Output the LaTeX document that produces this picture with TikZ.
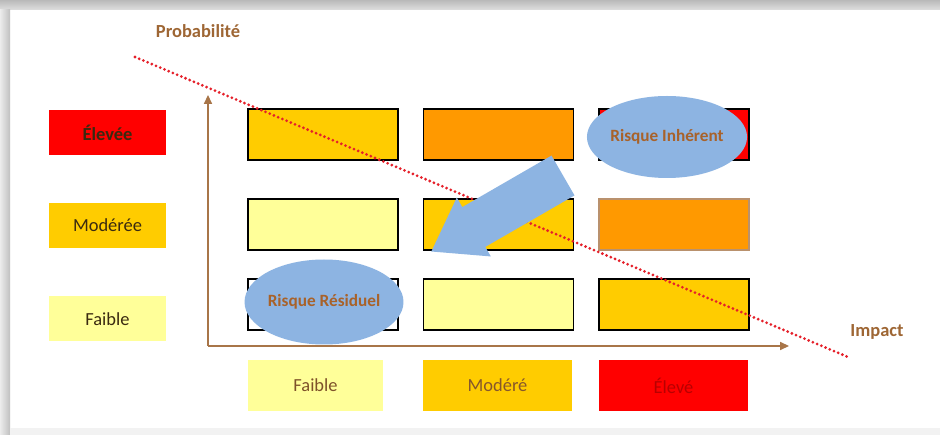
\documentclass[tikz,border=0pt]{standalone}
\usepackage{fontspec}
\setmainfont{Carlito}
\usetikzlibrary{arrows.meta,shapes.geometric}

\definecolor{gold}{HTML}{FFCC00}
\definecolor{riskorange}{HTML}{FF9900}
\definecolor{riskred}{HTML}{FF0000}
\definecolor{paleyellow}{HTML}{FFFF99}
\definecolor{bubbleblue}{HTML}{8DB4E2}
\definecolor{axisbrown}{HTML}{A87548}
\definecolor{labelbrown}{HTML}{9E6634}
\definecolor{bubbletext}{HTML}{A8622A}
\definecolor{dotred}{HTML}{E5202A}
\definecolor{darktext}{HTML}{3A2A10}

\begin{document}
\begin{tikzpicture}[x=0.02cm,y=-0.02cm,
  cell/.style={draw=black, line width=0.8pt, minimum width=150*0.02cm,
    minimum height=51*0.02cm, inner sep=0pt},
  legendbox/.style={minimum width=117*0.02cm, minimum height=45*0.02cm,
    inner sep=0pt, font=\fontsize{10.5}{12}\selectfont},
  impactbox/.style={minimum height=51*0.02cm, inner sep=0pt,
    font=\fontsize{10.5}{12}\selectfont},
  bubble/.style={ellipse, fill=bubbleblue, inner sep=0pt,
    text=bubbletext, font=\bfseries\fontsize{9.8}{11}\selectfont},
  axislabel/.style={text=labelbrown, font=\bfseries\fontsize{10.5}{12}\selectfont},
  axisline/.style={draw=axisbrown, line width=0.8pt,
    -{Triangle[length=5pt,width=4.5pt]}},
  riskline/.style={draw=dotred, line width=1.75pt,
    dash pattern=on 0pt off 2.6pt, line cap=round}
]
\useasboundingbox (0,0) rectangle (940,435);

% page frame with soft shadow
\fill[white] (0,0) rectangle (940,435);
\shade[top color=gray!55, bottom color=gray!25] (0,0) rectangle (940,10);
\shade[left color=gray!15, right color=gray!50] (0,10) rectangle (10,435);
\fill[gray!10] (10,428) rectangle (940,435);

% probability legend
\node[legendbox, fill=riskred, text=darktext, font=\bfseries\fontsize{10.5}{12}\selectfont] (lhigh) at (107.5,133) {Élevée};
\node[legendbox, fill=gold, text=darktext] (lmid) at (107.5,225.5) {Modérée};
\node[legendbox, fill=paleyellow, text=darktext] (llow) at (107.5,319) {Faible};

% risk matrix cells
\node[cell, fill=gold]       (r1c1) at (323,134.5) {};
\node[cell, fill=riskorange] (r1c2) at (498.5,134.5) {};
\node[cell, fill=riskred]    (r1c3) at (674,134.5) {};
\node[cell, fill=paleyellow] (r2c1) at (323,224.5) {};
\node[cell, fill=gold]       (r2c2) at (498.5,224.5) {};
\node[cell, fill=riskorange, draw=axisbrown!80] (r2c3) at (674,224.5) {};
\node[cell, fill=white]      (r3c1) at (323,304.5) {};
\node[cell, fill=paleyellow] (r3c2) at (498.5,304.5) {};
\node[cell, fill=gold]       (r3c3) at (674,304.5) {};

% impact legend
\node[impactbox, minimum width=135*0.02cm, fill=paleyellow, text=labelbrown!80!black] (ilow) at (315.5,385.5) {Faible};
\node[impactbox, minimum width=149*0.02cm, fill=gold, text=labelbrown!85!black] (imid) at (497.5,385.5) {Modéré};
\node[impactbox, minimum width=149*0.02cm, fill=riskred, text=red!72!black] (ihigh) at (673.5,385.5) {Élevé};

% axes
\coordinate (origin) at (208,346);
\coordinate (ytip) at (208,95);
\coordinate (xtip) at (789,346);
\draw[axisline] (origin) -- (ytip);
\draw[axisline] (origin) -- (xtip);
\node[axislabel] (plabel) at (198,31) {Probabilité};
\node[axislabel] (ilabel) at (877,332) {Impact};

% risk appetite line
\coordinate (dstart) at (135,57);
\coordinate (dend) at (848,357);
\draw[riskline] (dstart) -- (dend);

% inherent and residual risk
\node[bubble, minimum width=125*0.02cm, minimum height=82*0.02cm] (inherent) at (667,137) {Risque Inhérent};
\node[bubble, minimum width=131*0.02cm, minimum height=85*0.02cm] (residual) at (324,302) {Risque Résiduel};

% mitigation arrow
\begin{scope}[shift={(563,175.5)}, rotate=210]
  \fill[bubbleblue] (0,-23) -- (103,-23) -- (103,-34) -- (152,0)
    -- (103,34) -- (103,23) -- (0,23) -- cycle;
\end{scope}
\end{tikzpicture}
\end{document}
